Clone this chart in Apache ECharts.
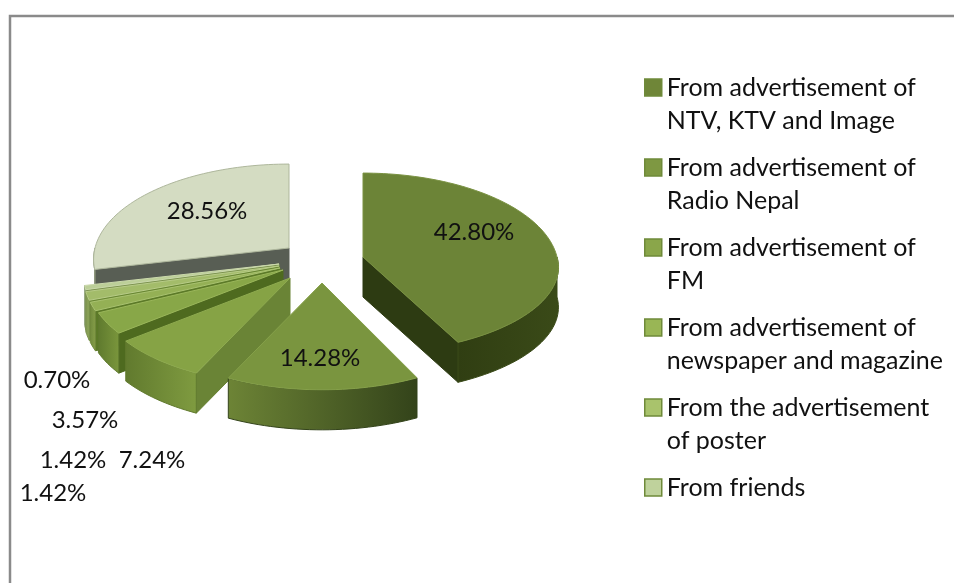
<!DOCTYPE html>
<html>
<head>
<meta charset="utf-8">
<style>html,body{margin:0;padding:0;background:#fff}#c{width:954px;height:583px}</style>
<script src="https://cdn.jsdelivr.net/npm/echarts@6/dist/echarts.min.js"></script>
</head>
<body>
<div id="c"></div>
<script>
// ---- data (clockwise from 12 o'clock) ----
const categories = [
  'From advertisement of NTV, KTV and Image',
  'From advertisement of Radio Nepal',
  'From advertisement of FM',
  'From advertisement of newspaper and magazine',
  'From the advertisement of poster',
  'Unlisted source A',
  'Unlisted source B',
  'From friends'
];
const values = [42.80, 14.28, 7.24, 3.57, 1.42, 1.42, 0.70, 28.56];
const legendNames = [categories[0], categories[1], categories[2], categories[3], categories[4], categories[7]];
const legendLines = [
  ['From advertisement of', 'NTV, KTV and Image'],
  ['From advertisement of', 'Radio Nepal'],
  ['From advertisement of', 'FM'],
  ['From advertisement of', 'newspaper and magazine'],
  ['From the advertisement', 'of poster'],
  ['From friends', ' ']
];

// ---- styling and layout, kept apart from the data ----
const FONT = 'Lato, "Open Sans", sans-serif';
const RX = 194, RY = 94, PERSP = 0.12, DEPTH = 40;
const apex = [[363,257],[322,283],[290,278],[283,270],[280,268],[279,266],[279,264],[289,248]];
const frontSquash = [0.9,1,1,1,1,1,1,1];
const topFill = ['#6c8437','#7a953f','#86a345','#88a748','#94b055','#a3bc6a','#bccf98','#d4dcc2'];
const topEdge = ['#7a9242','#86a14a','#8fab50','#9ab65a','#a9c270','#b8cc88','#cbd9ac','#aeb79c'];
const wallFrom = ['#303e12','#6d8436','#7f9b40','#7a963c','#869f4a','#93ab5c','#a5b985','#a9b296'];
const wallTo   = ['#3a4a18','#33431a','#617a2e','#5f7a2e','#70893c','#7c9350','#8ea076','#8f987e'];
const faceFill = ['#2d3b12','#4c6122','#6a8436','#4e6a1f','#5c7a28','#6a8834','#7d9450','#585e54'];
const labelPos = [[474,232],[320,358],[152,460],[85,420],[73,460],[53,493],[57,380],[207,211]];
const legendFill = ['#6f8638','#7e9842','#8aa64a','#99b655','#a9c36c','#bfd29c'];
const paintOrder = [7,6,5,4,3,2,0,1];

const total = values.reduce((a, b) => a + b, 0);
const starts = [];
values.reduce((acc, v, i) => { starts[i] = acc; return acc + v; }, 0);
const rad = p => p / total * Math.PI * 2;

function project(i, theta, r) {
  const u = r * Math.sin(theta), v = r * Math.cos(theta);
  const s = 1 / (1 + PERSP * v);
  const dy = -RY * v * s * (v < 0 ? frontSquash[i] : 1);
  return [apex[i][0] + RX * u * s, apex[i][1] + dy];
}
function arc(i, a0, a1) {
  const pts = [], n = Math.max(2, Math.ceil((a1 - a0) / 0.03));
  for (let k = 0; k <= n; k++) pts.push(project(i, a0 + (a1 - a0) * k / n, 1));
  return pts;
}
const down = p => [p[0], p[1] + DEPTH];
const hGrad = (a, b) => ({type:'linear', x:0, y:0, x2:1, y2:0, colorStops:[{offset:0,color:a},{offset:1,color:b}]});

function renderSlice(i) {
  return function (params, api) {
    const a0 = rad(starts[i]), a1 = a0 + rad(api.value(0));
    const c = project(i, 0, 0), kids = [];
    const poly = (points, fill, stroke) => kids.push({
      type:'polygon', shape:{points}, style:{fill, stroke: stroke || fill, lineWidth:1}
    });
    // radial cut faces that look towards the viewer
    [a0, a1].forEach((t, idx) => {
      const vis = idx === 0 ? Math.sin(t) < 0 : Math.sin(t) > 0;
      if (!vis) return;
      const e = project(i, t, 1);
      poly([c, e, down(e), down(c)], faceFill[i]);
    });
    // outer wall, front half only
    const w0 = Math.max(a0, Math.PI / 2), w1 = Math.min(a1, Math.PI * 1.5);
    if (w1 > w0) {
      const rim = arc(i, w0, w1);
      const fill = w0 < Math.PI ? hGrad(wallFrom[i], wallTo[i]) : hGrad(wallTo[i], wallFrom[i]);
      poly(rim.concat(rim.slice().reverse().map(down)), fill, wallTo[i]);
    }
    // top surface
    poly([c].concat(arc(i, a0, a1)), topFill[i], topEdge[i]);
    // value label
    kids.push({
      type:'text', silent:true, z2:10,
      style:{ x:labelPos[i][0], y:labelPos[i][1], text:api.value(0).toFixed(2) + '%',
              font:'24px ' + FONT, fill:'#111', align:'center', verticalAlign:'middle' }
    });
    return {type:'group', children:kids};
  };
}

const series = paintOrder.map((i, order) => ({
  type:'custom', name:categories[i], coordinateSystem:'none', z:2 + order,
  animation:false, itemStyle:{color:topFill[i]},
  data:[[values[i]]], renderItem:renderSlice(i)
}));

const chart = echarts.init(document.getElementById('c'), null, {renderer:'canvas'});
chart.setOption({
  animation:false,
  backgroundColor:'#fff',
  legend:{
    orient:'vertical', left:639, top:33, itemWidth:17, itemHeight:17, itemGap:-19,
    selectedMode:false, align:'left',
    data:legendNames.map((n, k) => ({
      name:n, icon:'rect',
      itemStyle:{color:legendFill[k], borderColor:'#6f8a3a', borderWidth:1.5}
    })),
    formatter:n => {
      const l = legendLines[legendNames.indexOf(n)];
      return ' \n' + l[0] + '\n' + l[1];
    },
    textStyle:{fontFamily:FONT, fontSize:25, color:'#111', lineHeight:33}
  },
  graphic:[{
    type:'polyline', silent:true,
    shape:{points:[[10,583],[10,16],[954,16]]},
    style:{stroke:'#8a8a8a', fill:null, lineWidth:2.5}
  }],
  series
});
</script>
</body>
</html>
